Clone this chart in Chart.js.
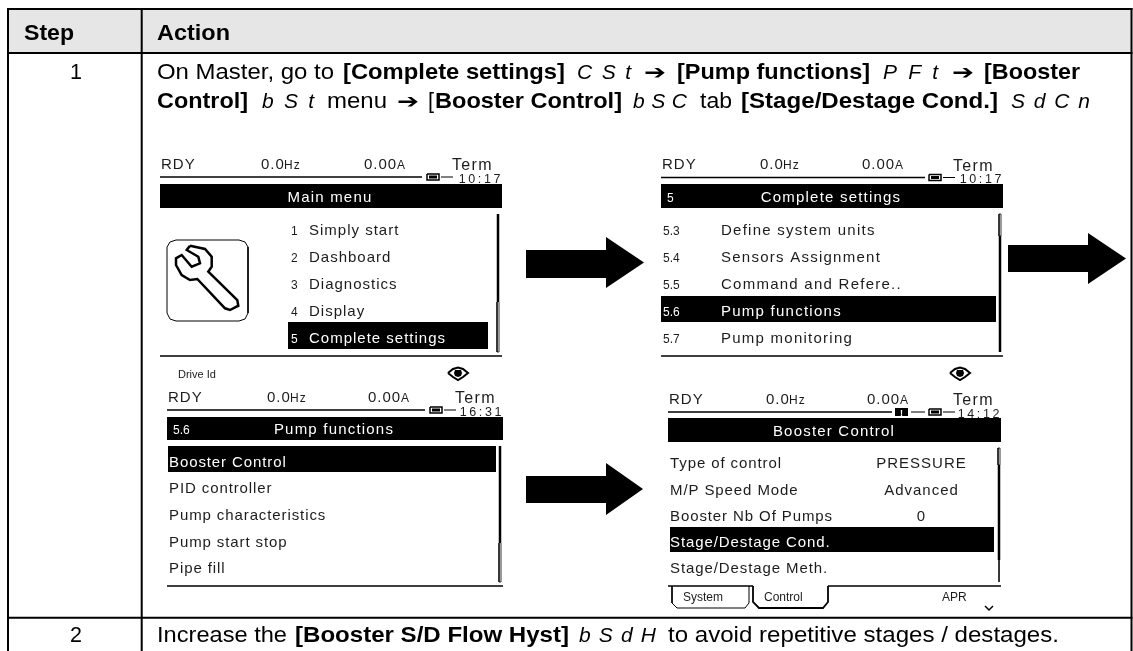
<!DOCTYPE html>
<html>
<head>
<meta charset="utf-8">
<title>Booster control steps</title>
<script src="https://cdn.jsdelivr.net/npm/chart.js@4/dist/chart.umd.min.js"></script>
<style>
html, body { margin: 0; padding: 0; background: #fff; }
canvas { display: block; filter: blur(0.35px); }
</style>
</head>
<body>
<canvas id="page" width="1133" height="651"></canvas>
<script>
// content of the table
var headers = ['Step', 'Action'];
var headerKinds = ['b', 'b'];
var stepLabels = ['1', '2'];
var stepOneLine1 = ['On Master, go to', '[Complete settings]', 'CSt', '➔', '[Pump functions]', 'PFt', '➔', '[Booster'];
var stepOneKinds1 = ['r', 'b', 'c', 'a', 'b', 'c', 'a', 'b'];
var stepOneLine2 = ['Control]', 'bSt', 'menu', '➔', '[', 'Booster Control]', 'bSC', 'tab', '[Stage/Destage Cond.]', 'SdCn'];
var stepOneKinds2 = ['b', 'c', 'r', 'a', 'r', 'b', 'c', 'r', 'b', 'c'];
var stepTwoLine = ['Increase the', '[Booster S/D Flow Hyst]', 'bSdH', 'to avoid repetitive stages / destages.'];
var stepTwoKinds = ['r', 'b', 'c', 'r'];

// content of the four keypad screens
var statusLabels = ['RDY', '0.0', 'Hz', '0.00', 'A', 'Term'];
var screenTimes = ['10:17', '10:17', '16:31', '14:12'];
var screenTitles = ['Main menu', 'Complete settings', 'Pump functions', 'Booster Control'];
var screenCodes = ['', '5', '5.6', ''];
var mainMenuNumbers = ['1', '2', '3', '4', '5'];
var mainMenuItems = ['Simply start', 'Dashboard', 'Diagnostics', 'Display', 'Complete settings'];
var settingsNumbers = ['5.3', '5.4', '5.5', '5.6', '5.7'];
var settingsItems = ['Define system units', 'Sensors Assignment', 'Command and Refere..', 'Pump functions', 'Pump monitoring'];
var pumpItems = ['Booster Control', 'PID controller', 'Pump characteristics', 'Pump start stop', 'Pipe fill'];
var boosterItems = ['Type of control', 'M/P Speed Mode', 'Booster Nb Of Pumps', 'Stage/Destage Cond.', 'Stage/Destage Meth.'];
var boosterValues = ['PRESSURE', 'Advanced', '0'];
var tabLabels = ['System', 'Control', 'APR'];
var driveLabel = 'Drive Id';

var BLACK = '#000';
var INK = '#1c1c1c';
var shapes = [];
var labels = [];

function line(pts, width, color) {
    shapes.push({ type: 'scatter', showLine: true, data: pts.map(function (p) { return { x: p[0], y: p[1] }; }),
        borderColor: color || BLACK, borderWidth: width || 1, pointRadius: 0, fill: false, tension: 0 });
}
function poly(pts, color) {
    var closed = pts.concat([pts[0]]);
    shapes.push({ type: 'scatter', showLine: true, data: closed.map(function (p) { return { x: p[0], y: p[1] }; }),
        borderColor: color || BLACK, backgroundColor: color || BLACK, borderWidth: 0, pointRadius: 0, fill: 'shape', tension: 0 });
}
function rect(x0, y0, x1, y1, color) { poly([[x0, y0], [x1, y0], [x1, y1], [x0, y1]], color); }
function text(t, x, y, font, color, align, spacing) {
    labels.push({ t: t, x: x, y: y, font: font, color: color || INK, align: align || 'left', spacing: spacing || 0 });
}

// table rules
var tableX = [8, 141.7, 1131.5];
var tableY = [9, 53, 617.7];
tableX.forEach(function (x) { line([[x, tableY[0] - 1], [x, 651]], 2); });
tableY.forEach(function (y) { line([[tableX[0] - 1, y], [tableX[2] + 1, y]], 2); });

var BOLD = 'bold 21.5px "Liberation Sans"';
var BODY = '21.5px "Liberation Sans"';
var CODE = 'italic 21px "Liberation Sans"';
var ARROW = '20px "DejaVu Sans"';

text(stepLabels[0], 76, 79, BODY, BLACK, 'center');
text(stepLabels[1], 76, 641.7, BODY, BLACK, 'center');

// each run of the running text is fitted between a start and end position
var richLines = [
    { parts: headers, kinds: headerKinds, y: 39.5, spans: [[24, 74], [157, 230]] },
    { parts: stepOneLine1, kinds: stepOneKinds1, y: 79, spans: [[157, 334], [343, 565], [577, 631], [644, 666], [677, 870], [883, 938], [952, 974], [984, 1080]] },
    { parts: stepOneLine2, kinds: stepOneKinds2, y: 107.5, spans: [[157, 248], [262, 314], [327, 387], [397, 419], [428, 434], [435, 622], [633, 687], [700, 732], [741, 998], [1011, 1090]] },
    { parts: stepTwoLine, kinds: stepTwoKinds, y: 641.7, spans: [[157, 287], [295, 569], [579, 656], [668, 1059]] }
];

function arrow(x0, xb, xt, yt, yb, hy0, hy1) {
    var yc = (hy0 + hy1) / 2;
    poly([[x0, yt], [xb, yt], [xb, hy0], [xt, yc], [xb, hy1], [xb, yb], [x0, yb]]);
}
arrow(526, 606, 644, 250, 278, 237, 288);
arrow(1008, 1088, 1126, 245, 272, 233, 284);
arrow(526, 606, 643, 476, 503, 463, 515);

var LCD = '15px "Liberation Sans"';
var LCD_SMALL = '12px "Liberation Sans"';

function battery(x, y) {
    line([[x, y - 3], [x + 12, y - 3], [x + 12, y + 3], [x, y + 3], [x, y - 3]], 1.5);
    rect(x + 2, y - 1.5, x + 10, y + 1.5);
}
function eye(x, y) {
    line([[x - 10, y], [x - 5, y - 4], [x, y - 5.5], [x + 5, y - 4], [x + 10, y], [x + 5, y + 4], [x, y + 7], [x - 5, y + 4], [x - 10, y]], 2);
    poly([[x - 3, y - 3], [x + 3, y - 3], [x + 4, y], [x + 3, y + 3], [x, y + 4], [x - 3, y + 3], [x - 4, y]]);
}

function statusBar(s) {
    text(statusLabels[0], s.left + 1, s.baseline, LCD, INK, 'left', 1);
    text(statusLabels[1], s.hz, s.baseline, LCD, INK, 'left', 1);
    text(statusLabels[2], s.hz + 23, s.baseline, LCD_SMALL, INK, 'left', 1);
    text(statusLabels[3], s.amp, s.baseline, LCD, INK, 'left', 1);
    text(statusLabels[4], s.amp + 33, s.baseline, LCD_SMALL, INK, 'left', 1);
    text(statusLabels[5], s.term, s.rule - 7, '16px "Liberation Sans"', INK, 'left', 1.3);
    line([[s.left, s.rule], [s.ruleEnd, s.rule]], 1.5);
    battery(s.battery, s.rule);
    line([[s.battery + 14, s.rule], [s.battery + 26, s.rule]], 1);
    text(screenTimes[s.index], s.right + 1, s.rule + 5.5, '12.5px "Liberation Sans"', INK, 'right', 2.6);
    rect(s.left, s.barTop, s.right, s.barBottom);
    text(screenTitles[s.index], s.titleX, s.barBottom - 6, LCD, '#fff', 'center', 1.2);
    if (screenCodes[s.index]) text(screenCodes[s.index], s.codeX, s.barBottom - 6, '12px "Liberation Sans"', '#fff');
}

function scrollBar(x, top, split, bottom, thickFirst) {
    if (thickFirst) {
        line([[x, top], [x, split]], 2.5);
        line([[x - 1, split], [x - 1, bottom], [x + 1, bottom], [x + 1, split]], 0.8);
    } else {
        line([[x - 1, top], [x - 1, split], [x + 1, split], [x + 1, top], [x - 1, top]], 0.8);
        line([[x, split], [x, bottom]], 2.5);
    }
}

var rowsA = [235, 262, 289, 316, 343];
var rowsB = [467, 493, 520, 547, 573];
var rowsC = [468, 495, 521, 547, 573];

// screen 1, main menu
var s1 = { index: 0, left: 160, right: 502, baseline: 169, hz: 261, amp: 364, term: 452, rule: 177, ruleEnd: 422, battery: 427, barTop: 184, barBottom: 208, titleX: 330 };
statusBar(s1);
rect(288, 322, 488, 349);
mainMenuNumbers.forEach(function (n, i) { text(n, 291, rowsA[i], '12px "Liberation Sans"', i === 4 ? '#fff' : INK); });
mainMenuItems.forEach(function (t, i) { text(t, 309, rowsA[i], LCD, i === 4 ? '#fff' : INK, 'left', 1); });
scrollBar(498, 214, 302, 352, true);
line([[160, 356], [502, 356]], 1.5);
text(driveLabel, 178, 378, '11px "Liberation Sans"');
eye(458, 373);
line([[176, 240], [239, 240], [245, 242], [248, 247], [248, 313], [245, 319], [239, 321], [176, 321], [170, 319], [167, 313], [167, 247], [170, 242], [176, 240]], 1);
line([[190, 245.7], [205, 249], [211.7, 256.7], [211.7, 266.7], [208.3, 271.7], [237.3, 300], [238.3, 305.7], [230, 310], [225, 308.3], [197.3, 279], [190, 280], [181.7, 275], [176, 265], [176, 258.3], [181.7, 255], [191.7, 266.7], [200, 263.3], [198.3, 256.7], [186.7, 250], [190, 245.7]], 2.5);

// screen 2, complete settings
var s2 = { index: 1, left: 661, right: 1003, baseline: 169, hz: 760, amp: 862, term: 953, rule: 177.5, ruleEnd: 925, battery: 929, barTop: 184, barBottom: 208, titleX: 831, codeX: 667 };
statusBar(s2);
rect(661, 296, 996, 322);
settingsNumbers.forEach(function (n, i) { text(n, 663, rowsA[i], '12px "Liberation Sans"', i === 3 ? '#fff' : INK); });
settingsItems.forEach(function (t, i) { text(t, 721, rowsA[i], LCD, i === 3 ? '#fff' : INK, 'left', 1.25); });
scrollBar(1000, 214, 236, 352, false);
line([[661, 356], [1003, 356]], 1.5);
eye(960, 373);

// screen 3, pump functions
var s3 = { index: 2, left: 167, right: 503, baseline: 402, hz: 267, amp: 368, term: 455, rule: 410, ruleEnd: 425, battery: 430, barTop: 417, barBottom: 440, titleX: 334, codeX: 173 };
statusBar(s3);
rect(168, 446, 496, 472);
pumpItems.forEach(function (t, i) { text(t, 169, rowsB[i], LCD, i === 0 ? '#fff' : INK, 'left', 0.9); });
scrollBar(500, 446, 543, 582, true);
line([[167, 586], [503, 586]], 1.5);

// screen 4, booster control
var s4 = { index: 3, left: 668, right: 1001, baseline: 404, hz: 766, amp: 867, term: 953, rule: 412, ruleEnd: 892, battery: 929, barTop: 418, barBottom: 442, titleX: 834 };
statusBar(s4);
rect(895, 408, 908, 416);
text('!', 901.5, 416, 'bold 9px "Liberation Sans"', '#fff', 'center');
line([[911, 412], [925, 412]], 1);
rect(670, 527, 994, 552);
boosterItems.forEach(function (t, i) { text(t, 670, rowsC[i], LCD, i === 3 ? '#fff' : INK, 'left', 0.9); });
boosterValues.forEach(function (t, i) { text(t, 921.5, rowsC[i], LCD, INK, 'center', 1); });
scrollBar(999, 448, 465, 560, false);
line([[999, 560], [999, 582]], 0.8);
line([[668, 586], [753, 586]], 1.5);
line([[828, 586], [1001, 586]], 1.5);
line([[672, 586], [672, 603], [677, 608], [745, 608], [749, 603], [749, 586]], 1);
line([[753, 586], [753, 602], [759, 608], [823, 608], [828, 602], [828, 586]], 1.8);
text(tabLabels[0], 683, 601, '12px "Liberation Sans"');
text(tabLabels[1], 764, 601, '12px "Liberation Sans"');
text(tabLabels[2], 942, 601, '12px "Liberation Sans"');
line([[985, 606], [989, 610], [993, 606]], 1.5);

// header band goes last so it is painted under the rules
rect(8, 9, 1131.5, 53, '#e6e6e6');

var pageText = {
    id: 'pageText',
    afterDatasetsDraw: function (chart) {
        var ctx = chart.ctx, sx = chart.scales.x, sy = chart.scales.y;
        ctx.save();
        ctx.textBaseline = 'alphabetic';
        labels.forEach(function (l) {
            ctx.font = l.font;
            ctx.fillStyle = l.color;
            ctx.textAlign = l.align;
            ctx.letterSpacing = l.spacing + 'px';
            ctx.fillText(l.t, sx.getPixelForValue(l.x), sy.getPixelForValue(l.y));
        });
        ctx.textAlign = 'left';
        ctx.fillStyle = BLACK;
        richLines.forEach(function (r) {
            r.parts.forEach(function (t, i) {
                var kind = r.kinds[i], span = r.spans[i], px = sx.getPixelForValue(span[0]), py = sy.getPixelForValue(r.y);
                ctx.font = kind === 'b' ? BOLD : kind === 'c' ? CODE : kind === 'a' ? ARROW : BODY;
                ctx.letterSpacing = '0px';
                var measured = ctx.measureText(t).width;
                if (kind === 'c') {
                    // display codes keep their wide gaps
                    ctx.letterSpacing = ((span[1] - span[0] - measured) / (t.length - 1)) + 'px';
                    ctx.fillText(t, px, py);
                } else {
                    // the source text is a little wider than the font, so stretch the run
                    ctx.save();
                    ctx.translate(px, py);
                    ctx.scale((span[1] - span[0]) / measured, 1);
                    ctx.fillText(t, 0, 0);
                    ctx.restore();
                }
            });
        });
        ctx.restore();
    }
};

new Chart(document.getElementById('page').getContext('2d'), {
    type: 'scatter',
    data: { datasets: shapes },
    options: {
        responsive: false,
        animation: false,
        events: [],
        layout: { padding: 0 },
        plugins: { legend: { display: false }, tooltip: { enabled: false }, title: { display: false } },
        scales: {
            x: { type: 'linear', display: false, min: 0, max: 1133 },
            y: { type: 'linear', display: false, min: 0, max: 651, reverse: true }
        }
    },
    plugins: [pageText]
});
</script>
</body>
</html>
